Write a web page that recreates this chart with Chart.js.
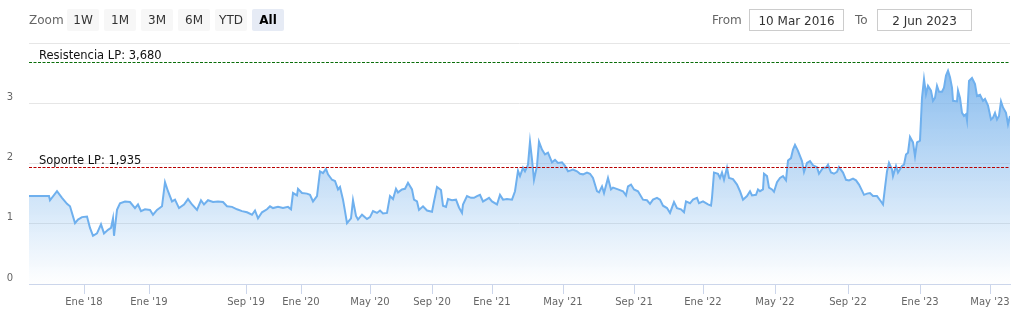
<!DOCTYPE html>
<html>
<head>
<meta charset="utf-8">
<script src="https://cdn.jsdelivr.net/npm/chart.js@4"></script>
<style>
  body { margin: 0; background: #fff; font-family: "DejaVu Sans", sans-serif; }
  #wrap { position: relative; width: 1023px; height: 310px; overflow: hidden; }
  #grafico { position: absolute; left: 0; top: 0; }
  .rs { position: absolute; top: 9px; height: 22px; line-height: 22px; font-size: 12px; color: #333; }
  .lbl { color: #666; }
  .btn { width: 32px; text-align: center; background: #f7f7f7; border-radius: 2px; }
  .btn.sel { background: #e6ebf5; font-weight: bold; color: #000; }
  .inp { border: 1px solid #ccc; box-sizing: border-box; text-align: center; color: #333; }
</style>
</head>
<body>
<div id="wrap">
  <canvas id="grafico" width="1023" height="310"></canvas>
  <div class="rs lbl" style="left:29px">Zoom</div>
  <div class="rs btn" style="left:67px">1W</div>
  <div class="rs btn" style="left:104px">1M</div>
  <div class="rs btn" style="left:141px">3M</div>
  <div class="rs btn" style="left:178px">6M</div>
  <div class="rs btn" style="left:215px">YTD</div>
  <div class="rs btn sel" style="left:252px">All</div>
  <div class="rs lbl" style="left:712px">From</div>
  <div class="rs inp" style="left:749px;width:95px">10 Mar 2016</div>
  <div class="rs lbl" style="left:855px">To</div>
  <div class="rs inp" style="left:877px;width:95px">2 Jun 2023</div>
</div>
<script>
// sesiones (eje ordinal) y cotizaciones
const sesiones = [0, 20, 21, 28, 33, 38, 41, 46, 49, 53, 58, 61, 64, 68, 72, 75, 79, 82, 84, 85,
  88, 91, 96, 101, 106, 109, 112, 116, 121, 124, 128, 133, 136, 139, 143, 146, 150, 155, 159, 163,
  168, 172, 175, 179, 184, 189, 194, 198, 203, 208, 213, 218, 223, 226, 229, 233, 238, 241, 244, 249,
  254, 259, 262, 264, 268, 269, 273, 278, 281, 284, 288, 291, 294, 297, 299, 303, 306, 309, 311, 314,
  316, 318, 322, 324, 327, 329, 333, 338, 341, 344, 348, 351, 354, 358, 361, 364, 367, 369, 373, 376,
  379, 383, 385, 388, 390, 394, 398, 403, 405, 408, 412, 414, 417, 419, 423, 427, 430, 433, 434, 438,
  442, 445, 448, 451, 454, 458, 460, 463, 468, 471, 474, 478, 483, 486, 489, 491, 494, 496, 499, 501,
  503, 505, 508, 510, 513, 516, 519, 523, 526, 529, 533, 536, 539, 544, 548, 551, 554, 558, 561, 564,
  568, 570, 573, 575, 579, 582, 584, 589, 594, 597, 599, 602, 605, 609, 614, 618, 621, 624, 628, 631,
  634, 638, 641, 645, 648, 652, 655, 657, 661, 664, 668, 670, 674, 679, 682, 683, 685, 689, 691, 693,
  695, 698, 700, 704, 708, 711, 714, 718, 721, 723, 727, 729, 731, 734, 735, 738, 740, 743, 745, 748,
  751, 754, 757, 759, 762, 764, 766, 769, 773, 775, 778, 781, 784, 788, 790, 794, 797, 799, 802, 805,
  808, 810, 814, 817, 820, 824, 827, 830, 833, 835, 838, 841, 844, 848, 852, 854, 856, 858, 860, 863,
  864, 867, 869, 873, 875, 877, 879, 881, 884, 886, 888, 891, 893, 895, 897, 899, 902, 904, 906, 908,
  910, 913, 915, 917, 919, 921, 923, 924, 928, 929, 931, 933, 935, 937, 938, 940, 943, 946, 948, 951,
  954, 956, 959, 962, 964, 966, 968, 970, 972, 974, 977, 979, 981];
const valores = [1.46, 1.46, 1.39, 1.54, 1.43, 1.33, 1.29, 1.01, 1.07, 1.11, 1.12, 0.93, 0.80, 0.84, 0.99, 0.84, 0.90, 0.93, 1.09, 0.80,
  1.23, 1.34, 1.37, 1.36, 1.26, 1.32, 1.21, 1.24, 1.23, 1.15, 1.23, 1.29, 1.69, 1.54, 1.37, 1.40, 1.26, 1.32, 1.41, 1.32,
  1.23, 1.39, 1.32, 1.39, 1.36, 1.37, 1.36, 1.29, 1.28, 1.24, 1.21, 1.19, 1.15, 1.22, 1.09, 1.19, 1.24, 1.29, 1.26, 1.28,
  1.26, 1.28, 1.24, 1.51, 1.47, 1.58, 1.51, 1.50, 1.48, 1.37, 1.46, 1.87, 1.84, 1.91, 1.82, 1.73, 1.71, 1.57, 1.61, 1.40,
  1.21, 1.01, 1.09, 1.39, 1.13, 1.07, 1.15, 1.08, 1.11, 1.21, 1.18, 1.22, 1.17, 1.18, 1.46, 1.41, 1.58, 1.52, 1.57, 1.58,
  1.68, 1.57, 1.40, 1.37, 1.23, 1.29, 1.22, 1.20, 1.37, 1.61, 1.56, 1.30, 1.28, 1.41, 1.39, 1.40, 1.27, 1.18, 1.32, 1.46,
  1.43, 1.43, 1.46, 1.48, 1.37, 1.41, 1.43, 1.37, 1.32, 1.48, 1.40, 1.41, 1.40, 1.54, 1.88, 1.79, 1.93, 1.87, 1.98, 2.36,
  2.07, 1.73, 1.96, 2.36, 2.23, 2.15, 2.18, 2.02, 2.06, 2.01, 2.02, 1.96, 1.87, 1.90, 1.87, 1.83, 1.82, 1.85, 1.83, 1.76,
  1.54, 1.52, 1.62, 1.51, 1.76, 1.57, 1.60, 1.57, 1.54, 1.47, 1.62, 1.65, 1.57, 1.54, 1.40, 1.39, 1.33, 1.40, 1.43, 1.40,
  1.30, 1.26, 1.18, 1.36, 1.26, 1.24, 1.19, 1.37, 1.34, 1.40, 1.43, 1.34, 1.37, 1.32, 1.30, 1.43, 1.85, 1.83, 1.76, 1.85,
  1.73, 1.93, 1.76, 1.74, 1.65, 1.54, 1.40, 1.46, 1.54, 1.47, 1.48, 1.57, 1.54, 1.57, 1.83, 1.79, 1.60, 1.57, 1.53, 1.69,
  1.76, 1.79, 1.72, 2.05, 2.09, 2.23, 2.31, 2.21, 2.04, 1.86, 2.01, 2.04, 1.97, 1.94, 1.83, 1.93, 1.93, 1.98, 1.85, 1.83,
  1.86, 1.94, 1.85, 1.73, 1.72, 1.75, 1.72, 1.65, 1.55, 1.48, 1.50, 1.51, 1.46, 1.46, 1.37, 1.32, 1.60, 1.87, 2.01, 1.90,
  1.79, 1.96, 1.85, 1.96, 1.98, 2.15, 2.18, 2.44, 2.35, 2.12, 2.35, 2.38, 3.09, 3.40, 3.15, 3.29, 3.21, 3.04, 3.09, 3.29,
  3.19, 3.19, 3.26, 3.46, 3.54, 3.43, 3.26, 3.04, 3.03, 3.21, 3.09, 2.84, 2.79, 2.82, 2.72, 3.37, 3.42, 3.32, 3.12, 3.14,
  3.04, 3.07, 2.96, 2.73, 2.76, 2.84, 2.73, 2.79, 3.03, 2.93, 2.84, 2.65, 2.79];

// marcas del eje x (posición ordinal) y sus etiquetas
const marcasX = [55, 120, 217, 272, 341, 403, 463, 534, 605, 674, 746, 819, 891, 961];
const etiquetasX = ["Ene '18", "Ene '19", "Sep '19", "Ene '20", "May '20", "Sep '20", "Ene '21",
  "May '21", "Sep '21", "Ene '22", "May '22", "Sep '22", "Ene '23", "May '23"];

const nivelesY = [0, 1, 2, 3, 4];
const resistencia = 3.680;
const soporte = 1.935;

const lineasNivel = {
  id: 'lineasNivel',
  afterDatasetsDraw(chart) {
    const { ctx, chartArea, scales } = chart;
    const lineas = [
      { v: resistencia, color: '#0a6e0a', texto: 'Resistencia LP: 3,680' },
      { v: soporte, color: '#b80000', texto: 'Soporte LP: 1,935' }
    ];
    ctx.save();
    lineas.forEach(function (l) {
      const y = Math.round(scales.y.getPixelForValue(l.v)) + 0.5;
      ctx.strokeStyle = l.color;
      ctx.lineWidth = 1.2;
      ctx.setLineDash([3, 1.5]);
      ctx.beginPath();
      ctx.moveTo(chartArea.left, y);
      ctx.lineTo(chartArea.right, y);
      ctx.stroke();
      ctx.setLineDash([]);
      ctx.fillStyle = '#111';
      ctx.font = '11.5px "DejaVu Sans"';
      ctx.textBaseline = 'alphabetic';
      ctx.fillText(l.texto, chartArea.left + 10, y - 4);
    });
    ctx.restore();
  }
};

const ctx = document.getElementById('grafico').getContext('2d');
new Chart(ctx, {
  type: 'line',
  data: {
    datasets: [{
      data: sesiones.map((s, i) => ({ x: s, y: valores[i] })),
      borderColor: '#6fb0ee',
      borderWidth: 2,
      pointRadius: 0,
      tension: 0,
      fill: 'origin',
      backgroundColor: function (c) {
        const area = c.chart.chartArea;
        if (!area) return 'rgba(124,181,236,0.4)';
        const g = c.chart.ctx.createLinearGradient(0, area.top, 0, area.bottom);
        g.addColorStop(0, 'rgba(124,181,236,1)');
        g.addColorStop(1, 'rgba(124,181,236,0)');
        return g;
      }
    }]
  },
  options: {
    responsive: false,
    animation: false,
    layout: { padding: { top: 43, right: 13, left: 0, bottom: 0 } },
    plugins: { legend: { display: false }, tooltip: { enabled: false } },
    scales: {
      x: {
        type: 'linear',
        min: 0,
        max: sesiones[sesiones.length - 1],
        afterBuildTicks: function (s) { s.ticks = marcasX.map(v => ({ value: v })); },
        afterFit: function (s) { s.height = 26; },
        border: { color: '#ccd6eb' },
        grid: { drawOnChartArea: false, color: '#ccd6eb', tickLength: 10 },
        ticks: {
          autoSkip: false,
          maxRotation: 0,
          padding: 2,
          color: '#666',
          font: { family: 'DejaVu Sans', size: 10 },
          callback: function (v) { return etiquetasX[marcasX.indexOf(v)]; }
        }
      },
      y: {
        min: 0,
        max: 4,
        afterBuildTicks: function (s) { s.ticks = nivelesY.map(v => ({ value: v })); },
        afterFit: function (s) { s.width = 29; },
        border: { display: false },
        grid: { color: '#e6e6e6', drawTicks: false },
        ticks: {
          padding: 16,
          labelOffset: -6,
          color: '#666',
          font: { family: 'DejaVu Sans', size: 10 },
          callback: function (v) { return v === 4 ? '' : v; }
        }
      }
    }
  },
  plugins: [lineasNivel]
});
</script>
</body>
</html>
